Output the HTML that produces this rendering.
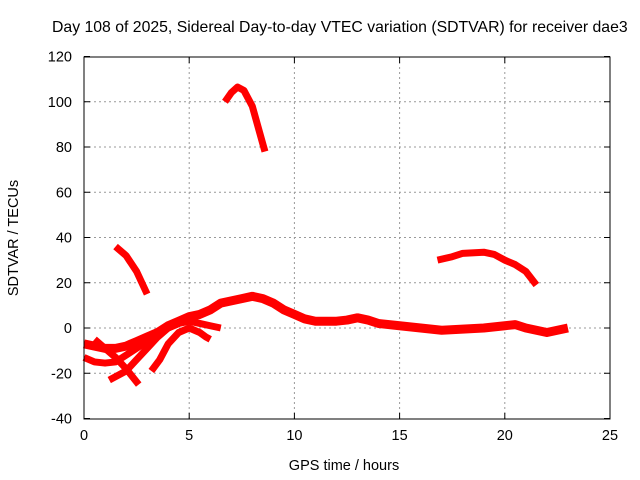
<!DOCTYPE html>
<html><head><meta charset="utf-8"><style>
body{margin:0;background:#fff}
svg{display:block;font-family:"Liberation Sans",sans-serif}
</style></head><body>
<svg id="c" width="640" height="480">
<text x="52" y="32" font-size="15.8" text-anchor="start">Day 108 of 2025, Sidereal Day-to-day VTEC variation (SDTVAR) for receiver dae3</text>
<text x="344" y="470" font-size="14.5" text-anchor="middle">GPS time / hours</text>
<text x="18" y="238" font-size="14.5" text-anchor="middle" transform="rotate(-90 18 238)">SDTVAR / TECUs</text>
<g id="grid"></g><g id="series"></g>
<rect x="84" y="57" width="526" height="362" fill="none" stroke="#000" stroke-width="1"/>
</svg>
<script>
const xTicks=[0,5,10,15,20,25];
const yTicks=[-40,-20,0,20,40,60,80,100,120];
const seg1=[[0,-7],[0.5,-8],[1,-9],[1.5,-9],[2,-8],[2.5,-6],[3,-4],[3.5,-2],[4,1],[4.5,3],[5,5],[5.5,6],[6,8],[6.5,11],[7,12],[7.5,13],[8,14],[8.5,13],[9,11],[9.5,8],[10,6],[10.5,4],[11,3],[12,3],[12.5,3.5],[13,4.5],[13.5,3.5],[14,2],[15,1],[16,0],[17,-1],[18,-0.5],[19,0],[20,1],[20.5,1.5],[21,0],[21.5,-1],[22,-2],[22.5,-1],[23,0]];
const seg2=[[0,-13],[0.5,-15],[1,-15.5],[1.5,-15],[2,-12],[2.5,-9],[3,-6],[3.5,-3],[4,0],[4.5,2],[5,3],[5.5,2],[6,1],[6.5,0]];
const seg3=[[1.2,-23],[2,-19],[2.5,-14],[3,-9],[3.5,-4],[4,0],[4.5,2]];
const seg4=[[0.5,-5],[1,-9],[1.5,-13],[2,-18],[2.6,-25]];
const seg5=[[3.2,-19],[3.6,-14],[4,-7],[4.5,-2],[5,0],[5.5,-2],[5.8,-4],[6,-5]];
const seg6=[[1.5,36],[2,32],[2.5,25],[3,15]];
const seg7=[[6.7,100],[7,104],[7.3,106.5],[7.6,105],[8,98],[8.3,88],[8.6,78]];
const seg8=[[16.8,30],[17.5,31.5],[18,33],[19,33.5],[19.5,32.5],[20,30],[20.5,28],[21,25],[21.5,19]];
const segments=[seg1,seg2,seg3,seg4,seg5,seg6,seg7,seg8];
const NS="http://www.w3.org/2000/svg";
const X=v=>84+v*(526/25), Y=v=>328-v*(362/160);
const g=document.getElementById('grid'), s=document.getElementById('series');
function mk(t,a,p){const e=document.createElementNS(NS,t);for(const k in a)e.setAttribute(k,a[k]);p.appendChild(e);return e;}
xTicks.forEach(t=>{
 if(t>0&&t<25){const l=mk('line',{x1:X(t),x2:X(t),y1:57,y2:419,stroke:'#999','stroke-dasharray':'2,3'},g);
 
 }
 const tx=mk('text',{x:X(t),y:440,'font-size':14.5,'text-anchor':'middle'},g);tx.textContent=t;
 
 
 mk('line',{x1:X(t),x2:X(t),y1:419,y2:413,stroke:'#000'},g);mk('line',{x1:X(t),x2:X(t),y1:57,y2:63,stroke:'#000'},g);
});
yTicks.forEach(t=>{
 if(t>-40&&t<120){const l=mk('line',{x1:84,x2:610,y1:Y(t),y2:Y(t),stroke:'#999','stroke-dasharray':'2,3'},g);
 
 }
 const tx=mk('text',{x:72,y:Y(t)+5,'font-size':14.5,'text-anchor':'end'},g);tx.textContent=t;
 
 
 mk('line',{x1:84,x2:90,y1:Y(t),y2:Y(t),stroke:'#000'},g);mk('line',{x1:604,x2:610,y1:Y(t),y2:Y(t),stroke:'#000'},g);
});
segments.forEach((sg,i)=>{
 const p=mk('polyline',{points:sg.map(d=>X(d[0])+','+Y(d[1])).join(' '),fill:'none',stroke:'#f00','stroke-width':i===0?9:7,'stroke-linejoin':'round','stroke-linecap':'butt'},s);
 
 
});
</script>
</body></html>
